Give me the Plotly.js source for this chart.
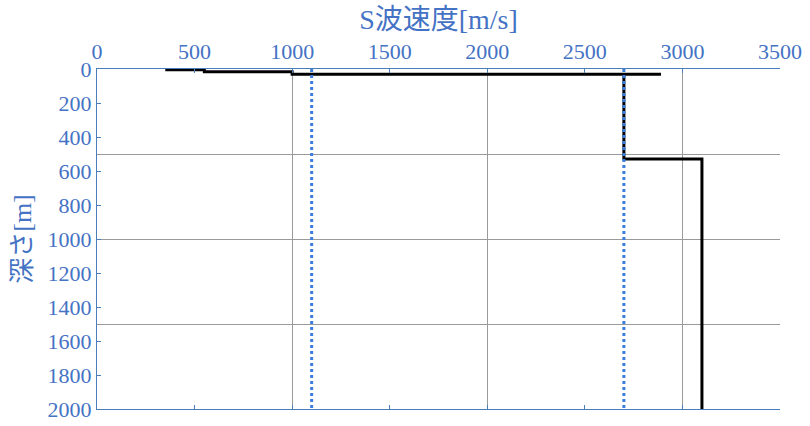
<!DOCTYPE html>
<html>
<head>
<meta charset="utf-8">
<script src="https://cdn.plot.ly/plotly-3.0.1.min.js"></script>
<style>
  body { margin: 0; background: #fff; }
  #chart { width: 810px; height: 426px; }
</style>
</head>
<body>
<div id="chart"></div>
<script>
// S-wave velocity profile (step line)
const profileVs = [350, 550, 550, 1000, 1000, 2890, 2700, 2700, 3100, 3100];
const profileDepth = [4, 4, 16, 16, 31, 31, 31, 530, 530, 2000];

// dotted reference velocities
const refVs = [1100, 2700];
const refDepth = [0, 2000];

// gridlines (coarser than the tick labels)
const gridVs = [1000, 2000, 3000];
const gridDepth = [500, 1000, 1500];

const blue = '#4472c4';
const font = 'Liberation Serif, "Times New Roman", "Noto Sans CJK JP", serif';

let data = refVs.map(v => ({
  x: [v, v],
  y: refDepth,
  xaxis: 'x2',
  yaxis: 'y2',
  type: 'scatter',
  mode: 'lines',
  line: { color: '#3a7ddc', width: 3, dash: 'dot' },
  hoverinfo: 'skip',
}));

data.push({
  x: profileVs,
  y: profileDepth,
  type: 'scatter',
  mode: 'lines',
  line: { color: '#000000', width: 3 },
  name: 'Vs',
});

let axisCommon = {
  showline: true,
  linecolor: '#4a7ebb',
  linewidth: 1,
  ticks: 'inside',
  ticklen: 4,
  tickcolor: '#4a7ebb',
  tickfont: { family: font, size: 22, color: blue },
  zeroline: false,
  fixedrange: true,
};

let gridCommon = {
  tickmode: 'array',
  showgrid: true,
  gridcolor: '#9a9a9a',
  gridwidth: 1,
  showticklabels: false,
  ticks: '',
  showline: false,
  zeroline: false,
};

Plotly.newPlot(
  'chart',
  data,
  {
    width: 810,
    height: 426,
    paper_bgcolor: '#ffffff',
    plot_bgcolor: '#ffffff',
    showlegend: false,
    margin: { t: 69, r: 30, b: 17, l: 97 },
    title: {
      text: 'S波速度[m/s]',
      font: { family: font, size: 28, color: blue },
      xref: 'paper',
      x: 0.5,
      yref: 'container',
      y: 0.955,
      yanchor: 'middle',
    },
    xaxis: {
      ...axisCommon,
      side: 'top',
      range: [0, 3500],
      dtick: 500,
      showgrid: false,
      mirror: 'ticks', // bottom edge line with ticks
    },
    xaxis2: {
      ...gridCommon,
      overlaying: 'x',
      side: 'top',
      range: [0, 3500],
      tickvals: gridVs,
    },
    yaxis: {
      ...axisCommon,
      range: [2000, 0],
      dtick: 200,
      showgrid: false,
      title: {
        text: '深さ[m]',
        font: { family: font, size: 26, color: blue },
        standoff: 8,
      },
    },
    yaxis2: {
      ...gridCommon,
      overlaying: 'y',
      range: [2000, 0],
      tickvals: gridDepth,
    },
  },
  { staticPlot: true }
);
</script>
</body>
</html>
